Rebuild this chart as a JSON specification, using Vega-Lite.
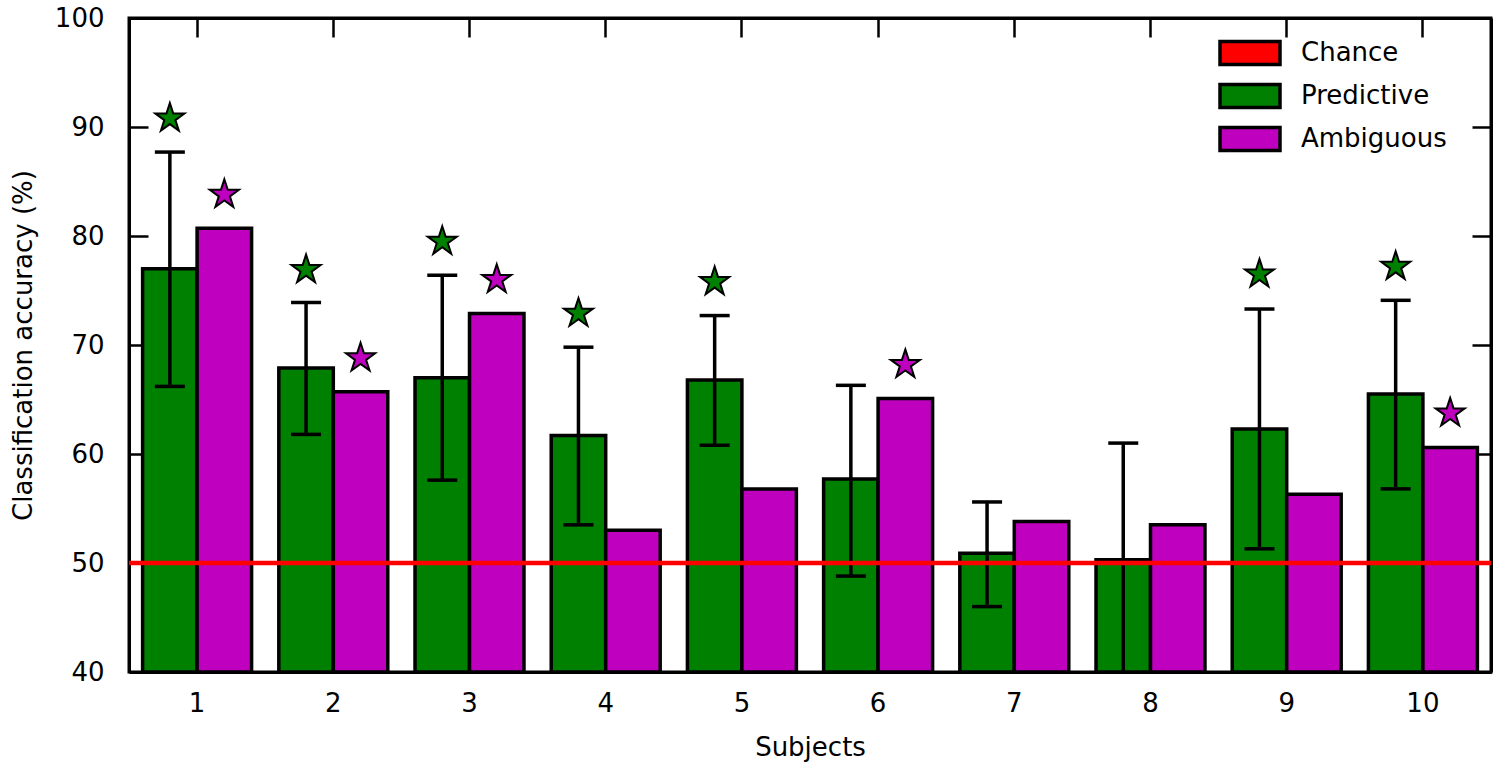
{
  "$schema": "https://vega.github.io/schema/vega-lite/v6.json",
  "width": 1362,
  "height": 654,
  "autosize": "none",
  "padding": {"left": 129, "top": 18, "right": 9, "bottom": 99},
  "background": "white",
  "datasets": {
    "acc": [
      {"subject": 1, "condition": "Predictive", "acc": 77.0, "lo": 66.2, "hi": 87.7, "star": 90.8},
      {"subject": 1, "condition": "Ambiguous", "acc": 80.7, "lo": null, "hi": null, "star": 83.8},
      {"subject": 2, "condition": "Predictive", "acc": 67.9, "lo": 61.8, "hi": 73.9, "star": 76.9},
      {"subject": 2, "condition": "Ambiguous", "acc": 65.7, "lo": null, "hi": null, "star": 68.8},
      {"subject": 3, "condition": "Predictive", "acc": 67.0, "lo": 57.6, "hi": 76.4, "star": 79.5},
      {"subject": 3, "condition": "Ambiguous", "acc": 72.9, "lo": null, "hi": null, "star": 76.0},
      {"subject": 4, "condition": "Predictive", "acc": 61.7, "lo": 53.5, "hi": 69.8, "star": 72.9},
      {"subject": 4, "condition": "Ambiguous", "acc": 53.0, "lo": null, "hi": null, "star": null},
      {"subject": 5, "condition": "Predictive", "acc": 66.8, "lo": 60.8, "hi": 72.7, "star": 75.8},
      {"subject": 5, "condition": "Ambiguous", "acc": 56.8, "lo": null, "hi": null, "star": null},
      {"subject": 6, "condition": "Predictive", "acc": 57.7, "lo": 48.8, "hi": 66.3, "star": null},
      {"subject": 6, "condition": "Ambiguous", "acc": 65.1, "lo": null, "hi": null, "star": 68.2},
      {"subject": 7, "condition": "Predictive", "acc": 50.9, "lo": 46.0, "hi": 55.6, "star": null},
      {"subject": 7, "condition": "Ambiguous", "acc": 53.8, "lo": null, "hi": null, "star": null},
      {"subject": 8, "condition": "Predictive", "acc": 50.3, "lo": 39.6, "hi": 61.0, "star": null},
      {"subject": 8, "condition": "Ambiguous", "acc": 53.5, "lo": null, "hi": null, "star": null},
      {"subject": 9, "condition": "Predictive", "acc": 62.3, "lo": 51.3, "hi": 73.3, "star": 76.5},
      {"subject": 9, "condition": "Ambiguous", "acc": 56.3, "lo": null, "hi": null, "star": null},
      {"subject": 10, "condition": "Predictive", "acc": 65.5, "lo": 56.8, "hi": 74.1, "star": 77.2},
      {"subject": 10, "condition": "Ambiguous", "acc": 60.6, "lo": null, "hi": null, "star": 63.75}
    ],
    "chance": [
      {"condition": "Chance", "level": 50}
    ]
  },
  "data": {"name": "acc"},
  "layer": [
    {
      "mark": {"type": "bar", "stroke": "black", "strokeWidth": 3.5, "clip": true},
      "encoding": {
        "x": {
          "field": "subject", "type": "ordinal", "title": "Subjects",
          "scale": {"type": "band", "paddingInner": 0.2, "paddingOuter": 0.1},
          "axis": {"orient": "bottom", "labelAngle": 0, "labelPadding": 37, "titlePadding": 18}
        },
        "xOffset": {
          "field": "condition", "type": "nominal",
          "scale": {"domain": ["Predictive", "Ambiguous"], "paddingInner": 0, "paddingOuter": 0}
        },
        "y": {
          "field": "acc", "type": "quantitative", "title": "Classification accuracy (%)",
          "scale": {"domain": [40, 100], "nice": false, "zero": false},
          "axis": {"orient": "left", "values": [40, 50, 60, 70, 80, 90, 100], "labelPadding": 44, "titlePadding": 18}
        },
        "y2": {"datum": 40},
        "color": {
          "field": "condition", "type": "nominal",
          "scale": {"domain": ["Chance", "Predictive", "Ambiguous"], "range": ["#ff0000", "#008000", "#bf00bf"]},
          "legend": {
            "title": null,
            "orient": "none",
            "legendX": 1104,
            "legendY": 18,
            "padding": 0,
            "symbolType": "M-2,-0.77H2V0.77H-2Z",
            "symbolSize": 900,
            "symbolStrokeColor": "black",
            "symbolStrokeWidth": 3.5,
            "symbolOpacity": 1,
            "labelOffset": 34,
            "rowPadding": 5,
            "labelFont": "DejaVu Sans",
            "labelFontSize": 26,
            "labelColor": "black"
          }
        }
      }
    },
    {
      "transform": [{"filter": "isValid(datum.lo)"}],
      "mark": {"type": "rule", "color": "black", "strokeWidth": 3.5, "clip": true},
      "encoding": {
        "x": {
          "field": "subject", "type": "ordinal",
          "scale": {"type": "band", "paddingInner": 0.2, "paddingOuter": 0.1},
          "axis": {"orient": "top", "labels": false, "title": null}
        },
        "xOffset": {"field": "condition", "type": "nominal", "scale": {"domain": ["Predictive", "Ambiguous"], "paddingInner": 0, "paddingOuter": 0}},
        "y": {
          "field": "lo", "type": "quantitative",
          "axis": {"orient": "right", "labels": false, "title": null, "values": [40, 50, 60, 70, 80, 90, 100]}
        },
        "y2": {"field": "hi"}
      }
    },
    {
      "transform": [{"filter": "isValid(datum.hi)"}],
      "mark": {"type": "tick", "color": "black", "thickness": 3.5, "size": 30, "clip": true, "opacity": 1},
      "encoding": {
        "x": {"field": "subject", "type": "ordinal", "scale": {"type": "band", "paddingInner": 0.2, "paddingOuter": 0.1}, "axis": null},
        "xOffset": {"field": "condition", "type": "nominal", "scale": {"domain": ["Predictive", "Ambiguous"], "paddingInner": 0, "paddingOuter": 0}},
        "y": {"field": "hi", "type": "quantitative", "axis": null}
      }
    },
    {
      "transform": [{"filter": "isValid(datum.lo)"}],
      "mark": {"type": "tick", "color": "black", "thickness": 3.5, "size": 30, "clip": true, "opacity": 1},
      "encoding": {
        "x": {"field": "subject", "type": "ordinal", "scale": {"type": "band", "paddingInner": 0.2, "paddingOuter": 0.1}, "axis": null},
        "xOffset": {"field": "condition", "type": "nominal", "scale": {"domain": ["Predictive", "Ambiguous"], "paddingInner": 0, "paddingOuter": 0}},
        "y": {"field": "lo", "type": "quantitative", "axis": null}
      }
    },
    {
      "transform": [{"filter": "isValid(datum.star)"}],
      "mark": {
        "type": "point",
        "shape": "M0,-1L0.2245,-0.309L0.9511,-0.309L0.3633,0.118L0.5878,0.809L0,0.382L-0.5878,0.809L-0.3633,0.118L-0.9511,-0.309L-0.2245,-0.309Z",
        "filled": true, "size": 930, "stroke": "black", "strokeWidth": 2, "opacity": 1
      },
      "encoding": {
        "x": {"field": "subject", "type": "ordinal", "scale": {"type": "band", "paddingInner": 0.2, "paddingOuter": 0.1}, "axis": null},
        "xOffset": {"field": "condition", "type": "nominal", "scale": {"domain": ["Predictive", "Ambiguous"], "paddingInner": 0, "paddingOuter": 0}},
        "y": {"field": "star", "type": "quantitative", "axis": null},
        "color": {"field": "condition", "type": "nominal"}
      }
    },
    {
      "data": {"name": "chance"},
      "mark": {"type": "rule", "color": "#ff0000", "strokeWidth": 4.5},
      "encoding": {
        "y": {"field": "level", "type": "quantitative", "axis": null}
      }
    }
  ],
  "resolve": {"axis": {"x": "independent", "y": "independent"}},
  "config": {
    "view": {"stroke": "black", "strokeWidth": 3},
    "axis": {
      "domainColor": "black",
      "domainWidth": 3,
      "tickColor": "black",
      "tickWidth": 2.5,
      "tickSize": -19,
      "labelFont": "DejaVu Sans",
      "labelFontSize": 26,
      "labelColor": "black",
      "titleFont": "DejaVu Sans",
      "titleFontSize": 26,
      "titleFontWeight": "normal",
      "titleColor": "black",
      "grid": false,
      "zindex": 1
    }
  }
}
